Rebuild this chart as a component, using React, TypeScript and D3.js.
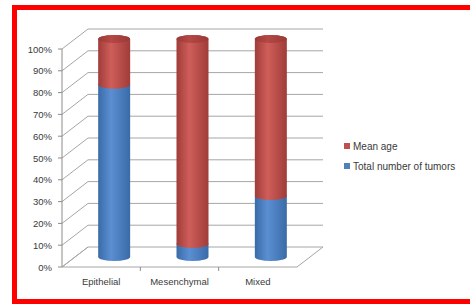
import React, { useRef, useEffect } from 'react';
import * as d3 from 'd3';

const categories = ['Epithelial', 'Mesenchymal', 'Mixed'];
const seriesNames = ['Total number of tumors', 'Mean age'];
const totalTumors = [79, 6, 28];
const meanAge = [21, 94, 72];
const yTicks = [0, 10, 20, 30, 40, 50, 60, 70, 80, 90, 100];

const W = 470;
const H = 304;

const App = () => {
  const svgRef = useRef<SVGSVGElement>(null);

  useEffect(() => {
    const svg = d3.select(svgRef.current);
    svg.selectAll('*').remove();

    const font = '"Liberation Sans", Arial, sans-serif';
    const depth = { dx: 26, dy: -20 };

    const x = d3.scaleBand().domain(categories).range([62, 297]);
    const y = d3.scaleLinear().domain([0, 100]).range([267, 49]);

    svg.append('rect').attr('width', W).attr('height', H).attr('fill', 'white');

    // gradients
    const defs = svg.append('defs');
    const grad = (id, edge, mid) => {
      const g = defs.append('linearGradient').attr('id', id)
        .attr('x1', 0).attr('x2', 1).attr('y1', 0).attr('y2', 0);
      g.append('stop').attr('offset', '0%').attr('stop-color', edge);
      g.append('stop').attr('offset', '40%').attr('stop-color', mid);
      g.append('stop').attr('offset', '100%').attr('stop-color', edge);
    };
    grad('blue-body', '#3A6BA8', '#5B8FD2');
    grad('red-body', '#A03C39', '#CF5E5A');
    grad('red-top', '#9A3936', '#B44845');

    const grid = svg.append('g').attr('stroke', '#A6A6A6').attr('stroke-width', 1).attr('fill', 'none');

    // back wall and side wall lines
    yTicks.forEach(t => {
      if (t > 0) {
        grid.append('line')
          .attr('x1', x.range()[0] + depth.dx).attr('x2', x.range()[1] + depth.dx)
          .attr('y1', y(t) + depth.dy).attr('y2', y(t) + depth.dy);
      }
      grid.append('line')
        .attr('x1', x.range()[0]).attr('x2', x.range()[0] + depth.dx)
        .attr('y1', y(t)).attr('y2', y(t) + depth.dy);
    });

    // floor
    const x0 = x.range()[0], x1 = x.range()[1];
    grid.append('path')
      .attr('d', `M${x0},${y(0)}L${x1},${y(0)}L${x1 + depth.dx},${y(0) + depth.dy}L${x0 + depth.dx},${y(0) + depth.dy}Z`);

    // y axis
    const axis = svg.append('g').attr('stroke', '#8C8C8C');
    axis.append('line').attr('x1', x0).attr('x2', x0).attr('y1', y(0)).attr('y2', y(100));
    yTicks.forEach(t => {
      axis.append('line').attr('x1', x0 - 4).attr('x2', x0).attr('y1', y(t)).attr('y2', y(t));
    });
    categories.forEach((c, i) => {
      if (i > 0) {
        axis.append('line').attr('x1', x(c)).attr('x2', x(c)).attr('y1', y(0)).attr('y2', y(0) + 4);
      }
    });

    svg.append('g')
      .selectAll('text')
      .data(yTicks)
      .enter()
      .append('text')
      .attr('x', 52)
      .attr('y', d => y(d) + 3.5)
      .attr('text-anchor', 'end')
      .style('font-family', font)
      .style('font-size', '9.5px')
      .style('fill', '#3A3A3A')
      .text(d => `${d}%`);

    svg.append('g')
      .selectAll('text')
      .data(categories)
      .enter()
      .append('text')
      .attr('x', d => x(d) + x.bandwidth() / 2)
      .attr('y', 285)
      .attr('text-anchor', 'middle')
      .style('font-family', font)
      .style('font-size', '9.5px')
      .style('fill', '#3A3A3A')
      .text(d => d);

    // cylinders
    const rx = 16, ry = 4;
    const bars = svg.append('g');
    categories.forEach((c, i) => {
      const cx = x(c) + x.bandwidth() / 2 + depth.dx / 2;
      const yc = v => y(v) + depth.dy / 2;
      const segs = [
        { lo: 0, hi: totalTumors[i], fill: 'url(#blue-body)' },
        { lo: totalTumors[i], hi: totalTumors[i] + meanAge[i], fill: 'url(#red-body)' }
      ];
      segs.forEach(s => {
        const b = yc(s.lo), t = yc(s.hi);
        bars.append('path')
          .attr('d', `M${cx - rx},${t}L${cx - rx},${b}A${rx},${ry} 0 0 0 ${cx + rx},${b}L${cx + rx},${t}A${rx},${ry} 0 0 0 ${cx - rx},${t}Z`)
          .attr('fill', s.fill);
      });
      bars.append('ellipse')
        .attr('cx', cx)
        .attr('cy', yc(totalTumors[i] + meanAge[i]))
        .attr('rx', rx)
        .attr('ry', ry)
        .attr('fill', 'url(#red-top)');
    });

    // legend
    const legend = svg.append('g').attr('transform', 'translate(344, 146)');
    const legendItems = [
      { name: seriesNames[1], color: '#C0504D' },
      { name: seriesNames[0], color: '#4F81BD' }
    ];
    legendItems.forEach((d, i) => {
      const row = legend.append('g').attr('transform', `translate(0, ${i * 20})`);
      row.append('rect').attr('x', 0).attr('y', -3).attr('width', 6).attr('height', 6).attr('fill', d.color);
      row.append('text')
        .attr('x', 9)
        .attr('y', 3.5)
        .style('font-family', font)
        .style('font-size', '10px')
        .style('fill', '#3A3A3A')
        .text(d.name);
    });

    // red frame
    svg.append('rect')
      .attr('x', 14.5)
      .attr('y', 7.5)
      .attr('width', 460)
      .attr('height', 294)
      .attr('fill', 'none')
      .attr('stroke', '#FF0000')
      .attr('stroke-width', 5);
  }, []);

  return (
    <svg
      ref={svgRef}
      width={W}
      height={H}
      style={{ position: 'fixed', left: 0, top: 0, display: 'block' }}
    />
  );
};

export default App;
